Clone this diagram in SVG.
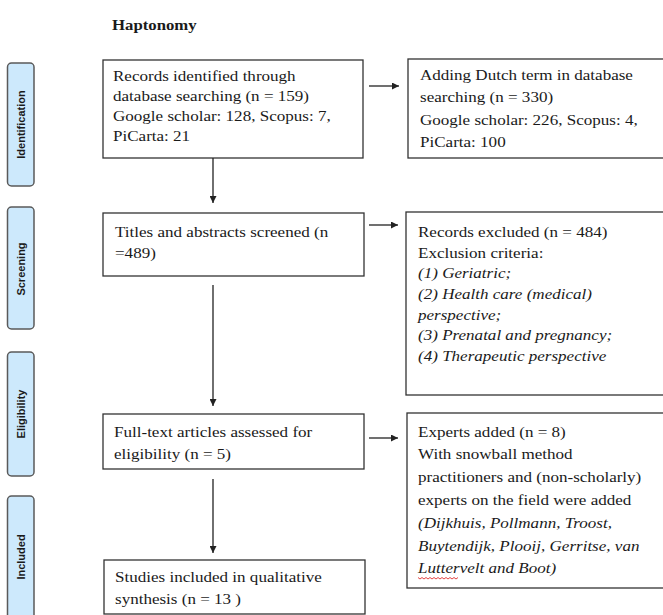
<svg xmlns="http://www.w3.org/2000/svg" width="663" height="615" viewBox="0 0 663 615">
<defs>
<style>
.bg{fill:#ffffff}
.box{fill:#ffffff;stroke:#333333;stroke-width:1.3}
.side{fill:#cde9fc;stroke:#5a5a5a;stroke-width:1.5}
.sidet{font-family:"Liberation Sans",Arial,sans-serif;font-weight:bold;font-size:11px;fill:#1a1a1a;text-anchor:middle}
.t{font-family:"Liberation Serif","Times New Roman",serif;font-size:15.5px;fill:#1a1a1a}
.it{font-style:italic}
.title{font-family:"Liberation Serif","Times New Roman",serif;font-size:15.5px;font-weight:bold;fill:#1a1a1a}
.conn{stroke:#222222;stroke-width:1.3;fill:none}
.head{fill:#222222}
</style>
<marker id="arr" viewBox="0 0 10 10" refX="10" refY="5" markerWidth="7" markerHeight="7" markerUnits="userSpaceOnUse" orient="auto">
<path d="M0,0 L10,5 L0,10 z" class="head"/>
</marker>
</defs>
<rect class="bg" x="0" y="0" width="663" height="615"/>

<text class="title" transform="translate(112,0) scale(1.08,1)" x="0" y="30">Haptonomy</text>

<g id="phase-identification">
<rect class="side" x="7.5" y="63" width="26.5" height="123" rx="4"/>
<text class="sidet" transform="translate(25,124.5) rotate(-90)" x="0" y="0">Identification</text>
</g>
<g id="phase-screening">
<rect class="side" x="7.5" y="207" width="26.5" height="122" rx="4"/>
<text class="sidet" transform="translate(25,269) rotate(-90)" x="0" y="0">Screening</text>
</g>
<g id="phase-eligibility">
<rect class="side" x="7.5" y="352" width="26.5" height="124" rx="4"/>
<text class="sidet" transform="translate(25,414) rotate(-90)" x="0" y="0">Eligibility</text>
</g>
<g id="phase-included">
<rect class="side" x="7.5" y="496" width="26.5" height="130" rx="4"/>
<text class="sidet" transform="translate(25,557) rotate(-90)" x="0" y="0">Included</text>
</g>

<g id="records-identified">
<rect class="box" x="103" y="60" width="260" height="98"/>
<text class="t" transform="translate(113,0) scale(1.1,1)">
<tspan x="0" y="81">Records identified through</tspan>
<tspan x="0" y="101">database searching  (n = 159)</tspan>
<tspan x="0" y="121">Google scholar:  128, Scopus:  7,</tspan>
<tspan x="0" y="141">PiCarta: 21</tspan>
</text>
</g>

<g id="dutch-term">
<rect class="box" x="408" y="59" width="270" height="99"/>
<text class="t" transform="translate(420,0) scale(1.1,1)">
<tspan x="0" y="80">Adding Dutch term in database</tspan>
<tspan x="0" y="102.5">searching  (n = 330)</tspan>
<tspan x="0" y="125">Google scholar: 226, Scopus:  4,</tspan>
<tspan x="0" y="147.5">PiCarta: 100</tspan>
</text>
</g>

<g id="screened">
<rect class="box" x="103" y="213" width="261" height="63"/>
<text class="t" transform="translate(115,0) scale(1.1,1)">
<tspan x="0" y="237">Titles and abstracts screened  (n</tspan>
<tspan x="0" y="258">=489)</tspan>
</text>
</g>

<g id="excluded">
<rect class="box" x="406" y="212" width="272" height="183"/>
<text class="t" transform="translate(418,0) scale(1.1,1)">
<tspan x="0" y="237">Records excluded  (n = 484)</tspan>
<tspan x="0" y="257.7">Exclusion criteria:</tspan>
<tspan x="0" y="278.4" class="it">(1) Geriatric;</tspan>
<tspan x="0" y="299.1" class="it">(2) Health care (medical)</tspan>
<tspan x="0" y="319.8" class="it">perspective;</tspan>
<tspan x="0" y="340.5" class="it">(3) Prenatal and pregnancy;</tspan>
<tspan x="0" y="361.2" class="it">(4) Therapeutic perspective</tspan>
</text>
</g>

<g id="full-text">
<rect class="box" x="103" y="414" width="261" height="55"/>
<text class="t" transform="translate(114,0) scale(1.1,1)">
<tspan x="0" y="437">Full-text articles assessed  for</tspan>
<tspan x="0" y="459">eligibility (n = 5)</tspan>
</text>
</g>

<g id="experts">
<rect class="box" x="407" y="413" width="271" height="175"/>
<text class="t" transform="translate(418,0) scale(1.1,1)">
<tspan x="0" y="437">Experts added  (n = 8)</tspan>
<tspan x="0" y="459">With snowball  method</tspan>
<tspan x="0" y="482">practitioners and (non-scholarly)</tspan>
<tspan x="0" y="505">experts on the field were added</tspan>
<tspan x="0" y="528" class="it">(Dijkhuis, Pollmann, Troost,</tspan>
<tspan x="0" y="551" class="it">Buytendijk, Plooij, Gerritse,  van</tspan>
<tspan x="0" y="573" class="it">Luttervelt and Boot)</tspan>
</text>
<path d="M418,577.5 l2,1.5 l2,-1.5 l2,1.5 l2,-1.5 l2,1.5 l2,-1.5 l2,1.5 l2,-1.5 l2,1.5 l2,-1.5 l2,1.5 l2,-1.5 l2,1.5 l2,-1.5 l2,1.5 l2,-1.5 l2,1.5 l2,-1.5 l2,1.5 l2,-1.5" fill="none" stroke="#e03030" stroke-width="0.9"/>
</g>

<g id="included">
<rect class="box" x="104" y="560" width="261" height="54"/>
<text class="t" transform="translate(115,0) scale(1.1,1)">
<tspan x="0" y="582">Studies included in qualitative</tspan>
<tspan x="0" y="604">synthesis (n = 13 )</tspan>
</text>
</g>

<g id="connectors">
<line class="conn" x1="213" y1="158" x2="213" y2="203" marker-end="url(#arr)"/>
<line class="conn" x1="213" y1="285" x2="213" y2="406" marker-end="url(#arr)"/>
<line class="conn" x1="213" y1="479" x2="213" y2="553" marker-end="url(#arr)"/>
<line class="conn" x1="369" y1="86" x2="399" y2="86" marker-end="url(#arr)"/>
<line class="conn" x1="369" y1="225" x2="398" y2="225" marker-end="url(#arr)"/>
<line class="conn" x1="369" y1="438" x2="398" y2="438" marker-end="url(#arr)"/>
</g>
</svg>
